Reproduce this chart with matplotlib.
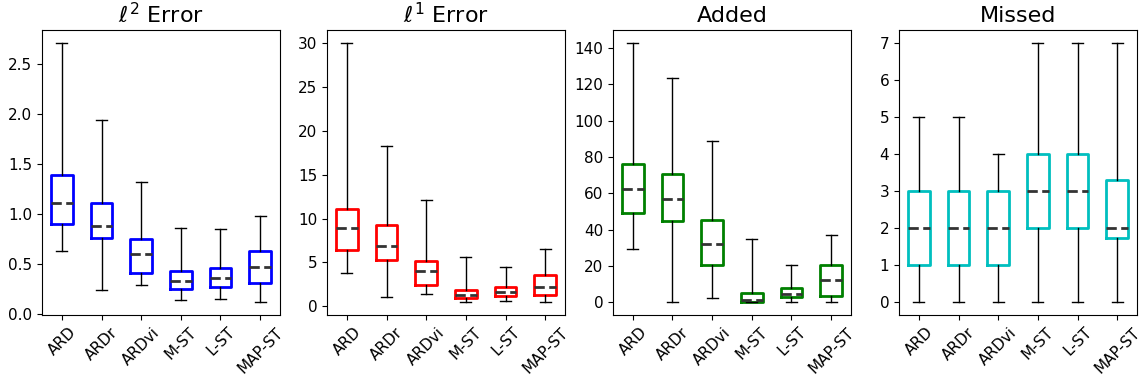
import numpy as np
import matplotlib.pyplot as plt

methods = ['ARD', 'ARDr', 'ARDvi', 'M-ST', 'L-ST', 'MAP-ST']

# five-number summaries per method: whislo, q1, med, q3, whishi
l2_error = [
    [0.63, 0.90, 1.11, 1.387, 2.71],
    [0.237, 0.753, 0.883, 1.113, 1.94],
    [0.29, 0.41, 0.597, 0.743, 1.323],
    [0.133, 0.243, 0.323, 0.427, 0.863],
    [0.147, 0.267, 0.353, 0.457, 0.85],
    [0.117, 0.307, 0.467, 0.623, 0.983],
]
l1_error = [
    [3.76, 6.38, 8.89, 11.13, 30.0],
    [1.10, 5.32, 6.84, 9.23, 18.23],
    [1.37, 2.39, 3.99, 5.20, 12.08],
    [0.49, 0.99, 1.33, 1.90, 5.58],
    [0.65, 1.18, 1.63, 2.20, 4.52],
    [0.49, 1.33, 2.24, 3.53, 6.49],
]
added = [
    [29.0, 48.9, 62.5, 76.2, 142.9],
    [0.0, 44.5, 56.8, 70.7, 123.3],
    [2.4, 20.4, 32.2, 45.2, 88.7],
    [0.0, 0.3, 1.0, 4.8, 34.7],
    [0.0, 2.8, 4.2, 7.7, 20.2],
    [0.0, 3.5, 12.1, 20.6, 36.9],
]
missed = [
    [0, 1, 2, 3, 5],
    [0, 1, 2, 3, 5],
    [0, 1, 2, 3, 4],
    [0, 2, 3, 4, 7],
    [0, 2, 3, 4, 7],
    [0, 1.74, 2, 3.29, 7],
]

panels = [
    (r'$\ell^2$ Error', l2_error, 'b'),
    (r'$\ell^1$ Error', l1_error, 'r'),
    ('Added', added, 'g'),
    ('Missed', missed, 'c'),
]

fig = plt.figure(figsize=(11.43, 3.81), dpi=100)
lefts = [42, 327, 613, 899]
W, H = 1143, 381
for (title, summ, col), left in zip(panels, lefts):
    ax = fig.add_axes([left / W, (H - 315) / H, 238 / W, 285 / H])
    stats = []
    for name, (lo, q1, med, q3, hi) in zip(methods, summ):
        stats.append(dict(label=name, whislo=lo, q1=q1, med=med, q3=q3,
                          whishi=hi, fliers=[]))
    ax.bxp(stats, widths=0.55, showfliers=False,
           boxprops=dict(color=col, linewidth=2),
           whiskerprops=dict(color='k', linewidth=1),
           capprops=dict(color='k', linewidth=1),
           medianprops=dict(color='#333333', linewidth=2, linestyle='--'))
    ax.set_title(title, fontsize=16)
    ax.tick_params(axis='both', labelsize=11)
    ax.tick_params(axis='x', labelrotation=45)

fig.savefig('out.png', dpi=100)
